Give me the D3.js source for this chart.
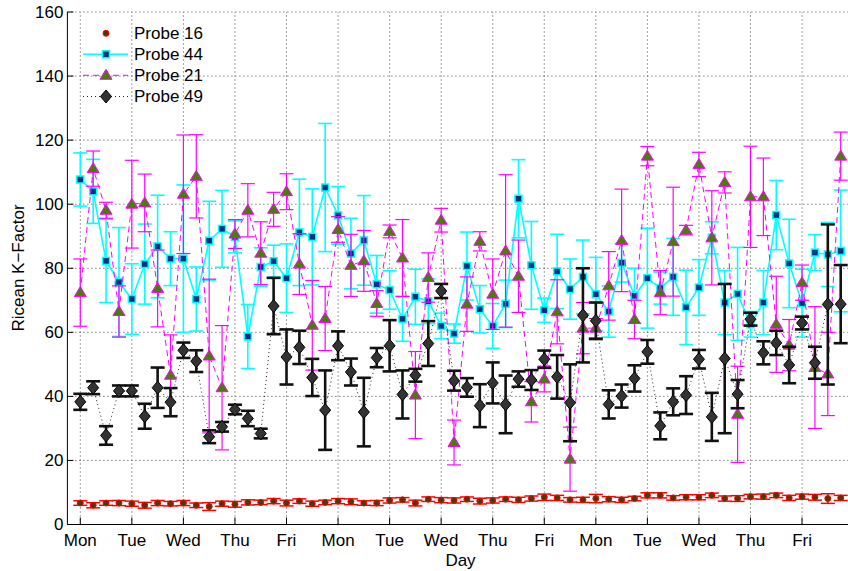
<!DOCTYPE html>
<html>
<head>
<meta charset="utf-8">
<script src="https://cdn.jsdelivr.net/npm/d3@7/dist/d3.min.js"></script>
<style>
html,body{margin:0;padding:0;background:#fff;}
svg{display:block;}
text{font-family:"Liberation Sans",Arial,Helvetica,sans-serif;}
</style>
</head>
<body>
<svg id="chart" width="848" height="571"></svg>
<script>
// ---- data ----
const dayLabels = ["Mon","Tue","Wed","Thu","Fri","Mon","Tue","Wed","Thu","Fri","Mon","Tue","Wed","Thu","Fri"];
const dayTicks = [1,5,9,13,17,21,25,29,33,37,41,45,49,53,57];
const yTicks = [0,20,40,60,80,100,120,140,160];
const seriesNames = ["Probe 16","Probe 44","Probe 21","Probe 49"];

const probe16 = [6.7,6.0,6.7,6.7,6.5,6.0,6.7,6.5,6.7,6.0,5.6,6.5,6.3,6.9,6.9,7.3,6.7,7.3,6.5,6.9,
                 7.3,7.1,6.7,6.7,7.5,7.7,6.7,7.9,7.6,7.5,7.9,7.3,7.5,7.9,7.7,8.1,8.5,8.3,7.7,7.7,
                 8.1,7.9,7.7,8.1,9.1,9.1,8.3,8.5,8.5,9.1,8.1,8.1,8.7,8.7,9.1,8.3,8.7,8.5,8.1,8.3];
const probe16Err = [0.7,0.8,0.7,0.8,0.8,0.9,0.8,0.7,0.8,0.7,1.2,0.8,0.9,0.8,0.7,0.8,0.9,0.7,0.8,0.7,
                    0.8,0.9,0.7,0.8,0.8,0.7,0.9,0.7,0.8,0.8,0.7,0.9,0.8,0.7,0.8,0.8,1.0,0.8,0.7,0.8,
                    1.3,0.8,0.8,0.7,0.8,0.8,0.7,0.8,0.8,0.7,0.8,0.9,0.7,0.8,0.7,0.8,0.8,0.9,1.5,0.8];

const probe44 = [107.7,104.0,82.3,75.7,70.4,81.3,86.8,83.0,83.0,70.4,88.6,92.3,89.8,58.7,80.4,82.2,76.9,91.2,89.8,105.2,
                 96.5,84.6,88.7,75.0,73.2,64.2,71.1,69.7,62.0,59.6,80.7,67.2,62.0,68.9,101.7,80.9,66.9,79.0,73.5,77.3,
                 71.9,66.5,81.7,71.4,76.9,73.8,77.3,67.8,74.0,89.5,69.3,72.0,62.5,69.3,96.6,81.5,69.1,84.9,84.3,85.4];
const probe44Err = [8.3,10,13,17,11,12.5,16,8.4,23,10,12.3,12,5,10,6,5,10.7,16.6,15,20,
                    9,11,14,9,6,7,8.6,7,4,3,10.6,7.4,7,7.4,12.2,13.7,3.8,11.6,9.4,11.5,
                    11.5,8,6,8.6,15.6,5,12,11.6,8.7,5,10,14.5,4,10,10.8,13.8,10.6,5.6,10,19];

const probe21 = [72.4,111.1,98.1,66.5,100.0,100.4,73.7,46.6,103.1,108.7,52.6,42.7,90.7,98.1,84.7,98.4,103.9,81.3,62.2,64.3,
                 92.1,80.9,82.3,69.0,91.5,83.2,40.4,77.1,95.0,25.6,68.8,88.4,71.9,85.4,77.5,38.3,45.4,66.4,20.4,61.3,
                 61.3,74.5,88.7,64.0,115.0,72.4,88.3,91.9,112.4,89.5,106.8,34.4,102.3,102.3,62.5,56.0,75.5,49.0,47.0,115.0];
const probe21Err = [10.5,5.5,2.5,8,13.7,9,12,12.6,18.5,13,24,19.4,4.5,8.3,9.8,5.3,5.6,9.5,14,10,
                    4,9.7,9.5,4,2,12,13.6,7.7,3.7,7,8.5,3,11,23.8,11.3,6.3,4,10,10,8,
                    3,10.7,16,6,3,6.9,17,1.5,3.8,14.7,3.3,15,15.8,12.1,15,8,5.5,19,13,7.5];

const probe49 = [38.3,42.7,27.8,41.7,41.7,33.8,42.7,38.2,54.4,51.0,27.4,30.5,35.9,33.1,28.4,68.2,52.3,55.3,45.9,35.7,
                 55.8,47.6,35.1,52.1,55.8,40.6,46.6,56.5,72.9,44.9,42.8,37.1,44.2,37.5,45.4,45.1,51.6,46.1,38.0,65.3,
                 63.6,37.5,40.1,45.6,53.9,30.8,38.3,40.4,51.6,33.6,51.8,40.7,64.1,53.6,56.7,49.8,62.9,50.5,68.7,68.8];
const probe49Err = [2.5,2,2.9,1.7,1.7,3.9,6.3,4.4,2.4,3.4,2,1.5,1.5,2.4,1.5,8.8,8.6,5.2,5.8,12.4,
                    4.5,4.2,10.7,3,8,7.5,2,7,2.2,3.1,2.9,6.7,6.4,9,2.4,3.1,2.7,6.8,12,14.7,
                    5.7,4.4,3.6,4.1,3.7,4.2,4.2,5.9,2.9,7.5,23.3,4.4,2,3.6,3.8,5.7,2,5,25,12.2];

// ---- layout ----
const svg = d3.select("#chart");
const x = d3.scaleLinear().domain([0, 61]).range([67.4, 853.6]);
const y = d3.scaleLinear().domain([0, 160]).range([524.5, 12]);
const idx = d3.range(1, 61);
const cap = 7;

// grid
const grid = svg.append("g");
grid.selectAll("line.gx").data(dayTicks).join("line")
  .attr("x1", d => x(d)).attr("x2", d => x(d)).attr("y1", y(0)).attr("y2", y(160))
  .attr("stroke", "#444").attr("stroke-width", 1).attr("stroke-dasharray", "1,3");
grid.selectAll("line.gy").data(yTicks.slice(1)).join("line")
  .attr("x1", x(0)).attr("x2", 848).attr("y1", d => y(d)).attr("y2", d => y(d))
  .attr("stroke", "#444").attr("stroke-width", 1).attr("stroke-dasharray", "1,3");

// series config
function drawSeries(vals, errs, color, errWidth, lineStyle, markerFn) {
  const g = svg.append("g");
  const pts = idx.map((i, k) => ({i, v: vals[k], e: errs[k]}));
  // error bars
  const eb = g.append("g").attr("stroke", color).attr("stroke-width", errWidth).attr("fill", "none");
  pts.forEach(p => {
    const x0 = x(p.i), yt = y(p.v + p.e), yb = y(p.v - p.e);
    eb.append("line").attr("x1", x0).attr("x2", x0).attr("y1", yt).attr("y2", yb);
    eb.append("line").attr("x1", x0 - cap).attr("x2", x0 + cap).attr("y1", yt).attr("y2", yt);
    eb.append("line").attr("x1", x0 - cap).attr("x2", x0 + cap).attr("y1", yb).attr("y2", yb);
  });
  if (lineStyle) {
    g.append("path").datum(pts)
      .attr("d", d3.line().x(p => x(p.i)).y(p => y(p.v)))
      .attr("fill", "none").attr("stroke", lineStyle.color).attr("stroke-width", lineStyle.width)
      .attr("stroke-dasharray", lineStyle.dash || null);
  }
  pts.forEach(p => markerFn(g, x(p.i), y(p.v)));
}

const markers = {
  circle: (g, cx, cy) => g.append("circle").attr("cx", cx).attr("cy", cy).attr("r", 3)
      .attr("fill", "#4a3c00").attr("stroke", "#ff0000").attr("stroke-width", 1),
  square: (g, cx, cy) => g.append("rect").attr("x", cx - 3.5).attr("y", cy - 3.5).attr("width", 7).attr("height", 7)
      .attr("fill", "#003380").attr("stroke", "#00ffff").attr("stroke-width", 1.5),
  triangle: (g, cx, cy) => g.append("path")
      .attr("d", `M${cx},${cy - 6}L${cx + 6},${cy + 4}L${cx - 6},${cy + 4}Z`)
      .attr("fill", "#4d7a0a").attr("stroke", "#ff00ff").attr("stroke-width", 1),
  diamond: (g, cx, cy) => g.append("path")
      .attr("d", `M${cx},${cy - 6.5}L${cx + 5.5},${cy}L${cx},${cy + 6.5}L${cx - 5.5},${cy}Z`)
      .attr("fill", "#333333").attr("stroke", "#000").attr("stroke-width", 1)
};

drawSeries(probe16, probe16Err, "#ff0000", 1.5, null, markers.circle);
drawSeries(probe44, probe44Err, "#00ffff", 1.6, {color: "#00ffff", width: 1.6}, markers.square);
drawSeries(probe21, probe21Err, "#ff00ff", 1.2, {color: "#ff00ff", width: 1, dash: "6,4"}, markers.triangle);
drawSeries(probe49, probe49Err, "#111111", 2.6, {color: "#222", width: 1, dash: "1,3"}, markers.diamond);

// axes
const axG = svg.append("g");
axG.append("line").attr("x1", x(0)).attr("x2", 848).attr("y1", y(0)).attr("y2", y(0)).attr("stroke", "#000").attr("stroke-width", 1);
axG.append("line").attr("x1", x(0)).attr("x2", x(0)).attr("y1", y(0)).attr("y2", y(160)).attr("stroke", "#000").attr("stroke-width", 1);
axG.selectAll("line.ty").data(yTicks).join("line")
  .attr("x1", x(0)).attr("x2", x(0) + 6).attr("y1", d => y(d)).attr("y2", d => y(d)).attr("stroke", "#000");
axG.selectAll("text.ty").data(yTicks).join("text")
  .attr("x", x(0) - 4).attr("y", d => y(d)).attr("dy", "0.35em").attr("text-anchor", "end")
  .attr("font-size", 17).text(d => d);
axG.selectAll("line.tx").data(dayTicks).join("line")
  .attr("x1", d => x(d)).attr("x2", d => x(d)).attr("y1", y(0)).attr("y2", y(0) - 7).attr("stroke", "#000");
axG.selectAll("text.tx").data(dayTicks).join("text")
  .attr("x", d => x(d)).attr("y", 546).attr("text-anchor", "middle")
  .attr("font-size", 17).text((d, k) => dayLabels[k]);

svg.append("text").attr("x", 460.5).attr("y", 566).attr("text-anchor", "middle").attr("font-size", 17).text("Day");
svg.append("text").attr("transform", "translate(24,268) rotate(-90)").attr("text-anchor", "middle")
  .attr("font-size", 17).text("Ricean K\u2212Factor");

// legend
const leg = svg.append("g");
const legY = [33.3, 54.3, 75.3, 96.5];
const legStyles = [
  {line: null, m: markers.circle},
  {line: {color: "#00ffff", width: 1.6}, m: markers.square},
  {line: {color: "#ff00ff", width: 1, dash: "6,4"}, m: markers.triangle},
  {line: {color: "#222", width: 1, dash: "1,3"}, m: markers.diamond}
];
seriesNames.forEach((name, k) => {
  const ly = legY[k], st = legStyles[k];
  if (st.line) {
    leg.append("line").attr("x1", 83).attr("x2", 128).attr("y1", ly).attr("y2", ly)
      .attr("stroke", st.line.color).attr("stroke-width", st.line.width).attr("stroke-dasharray", st.line.dash || null);
  }
  st.m(leg, 106, ly);
  leg.append("text").attr("x", 134).attr("y", ly).attr("dy", "0.35em").attr("font-size", 17).text(name);
});
</script>
</body>
</html>
